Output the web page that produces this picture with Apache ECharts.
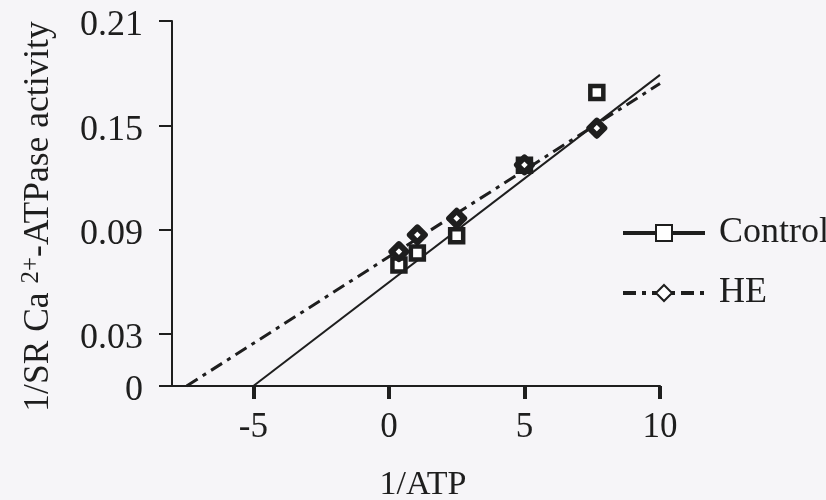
<!DOCTYPE html>
<html>
<head>
<meta charset="utf-8">
<script src="https://cdn.jsdelivr.net/npm/echarts@6/dist/echarts.min.js"></script>
<style>
html,body{margin:0;padding:0;background:#f6f5f8;}
#chart{width:826px;height:500px;}
</style>
</head>
<body>
<div id="chart"></div>
<script>
// 1/ATP values (x) for the measured points
const atpInv = [0.37, 1.05, 2.5, 5.0, 7.67];
// 1/SR Ca2+-ATPase activity, Control group
const controlValues = [0.0696, 0.0765, 0.0865, 0.127, 0.1688];
// 1/SR Ca2+-ATPase activity, HE group
const heValues = [0.0773, 0.0869, 0.0965, 0.1272, 0.1483];
// Regression lines (endpoints)
const controlFitX = [-5, 10];
const controlFitY = [0, 0.179];
const heFitX = [-7.46, 10];
const heFitY = [0, 0.174];
// Axis ticks
const xTicks = [-5, 0, 5, 10];
const yTicks = [0, 0.03, 0.09, 0.15, 0.21];

const pair = (xs, ys) => xs.map((x, i) => [x, ys[i]]);
const ink = '#1e1e1e';
const font = '"Liberation Serif", "DejaVu Serif", serif';

const chart = echarts.init(document.getElementById('chart'));
chart.setOption({
  backgroundColor: '#f6f5f8',
  animation: false,
  grid: { left: 172, right: 166, top: 21, bottom: 114, containLabel: false, outerBoundsMode: 'none' },
  legend: {
    orient: 'vertical',
    left: 616,
    top: 210,
    itemWidth: 82,
    itemHeight: 20,
    itemGap: 24,
    data: ['Control', 'HE'],
    lineStyle: { width: 4 },
    textStyle: { fontFamily: font, fontSize: 36, color: ink, padding: [0, 0, 0, 9] }
  },
  xAxis: {
    type: 'value',
    min: -8,
    max: 10,
    name: '1/ATP',
    nameLocation: 'middle',
    nameGap: 82,
    nameTextStyle: { fontFamily: font, fontSize: 34, color: ink, padding: [0, 0, 0, 14] },
    splitLine: { show: false },
    axisLine: { onZero: false, lineStyle: { color: ink, width: 2 } },
    axisTick: { customValues: xTicks, length: 13, lineStyle: { color: ink, width: 4 } },
    axisLabel: { customValues: xTicks, fontFamily: font, fontSize: 35, color: ink, margin: 24 }
  },
  yAxis: {
    type: 'value',
    min: 0,
    max: 0.21,
    name: '{a|1/SR Ca }{sup|2+}{a|-ATPase activity}',
    nameLocation: 'middle',
    nameRotate: 90,
    nameGap: 114,
    nameTextStyle: {
      padding: [0, 26, 0, 0],
      rich: {
        a: { fontFamily: font, fontSize: 35.5, color: ink },
        sup: { fontFamily: font, fontSize: 25, color: ink, verticalAlign: 'top', padding: [0, 0, 14, 0] }
      }
    },
    splitLine: { show: false },
    axisLine: { onZero: false, lineStyle: { color: ink, width: 2 } },
    axisTick: { customValues: yTicks, length: 13, lineStyle: { color: ink, width: 2 } },
    axisLabel: {
      customValues: yTicks,
      color: ink, margin: 29,
      formatter: v => '{v|' + (v === 0 ? '0' : v.toFixed(2)) + '}',
      rich: { v: { fontFamily: font, fontSize: 36, color: ink, padding: [10, 0, 0, 0] } }
    }
  },
  series: [
    {
      name: 'Control',
      type: 'line',
      data: pair(controlFitX, controlFitY),
      showSymbol: false,
      symbol: 'rect',
      itemStyle: { color: '#ffffff', borderColor: ink, borderWidth: 1.5 },
      lineStyle: { color: ink, width: 2 },
      z: 2
    },
    {
      name: 'HE',
      type: 'line',
      data: pair(heFitX, heFitY),
      showSymbol: false,
      symbol: 'diamond',
      itemStyle: { color: '#ffffff', borderColor: ink, borderWidth: 2 },
      lineStyle: { color: ink, width: 3, type: [13, 6, 4, 6] },
      z: 2
    },
    {
      name: 'Control points',
      type: 'scatter',
      data: pair(atpInv, controlValues),
      symbol: 'rect',
      symbolSize: 13,
      itemStyle: { color: '#ffffff', borderColor: ink, borderWidth: 4.5, opacity: 1 },
      z: 3
    },
    {
      name: 'HE points',
      type: 'scatter',
      data: pair(atpInv, heValues),
      symbol: 'diamond',
      symbolSize: 15,
      itemStyle: { color: '#ffffff', borderColor: ink, borderWidth: 6, borderJoin: 'round', opacity: 1 },
      z: 4
    }
  ]
});
</script>
</body>
</html>
